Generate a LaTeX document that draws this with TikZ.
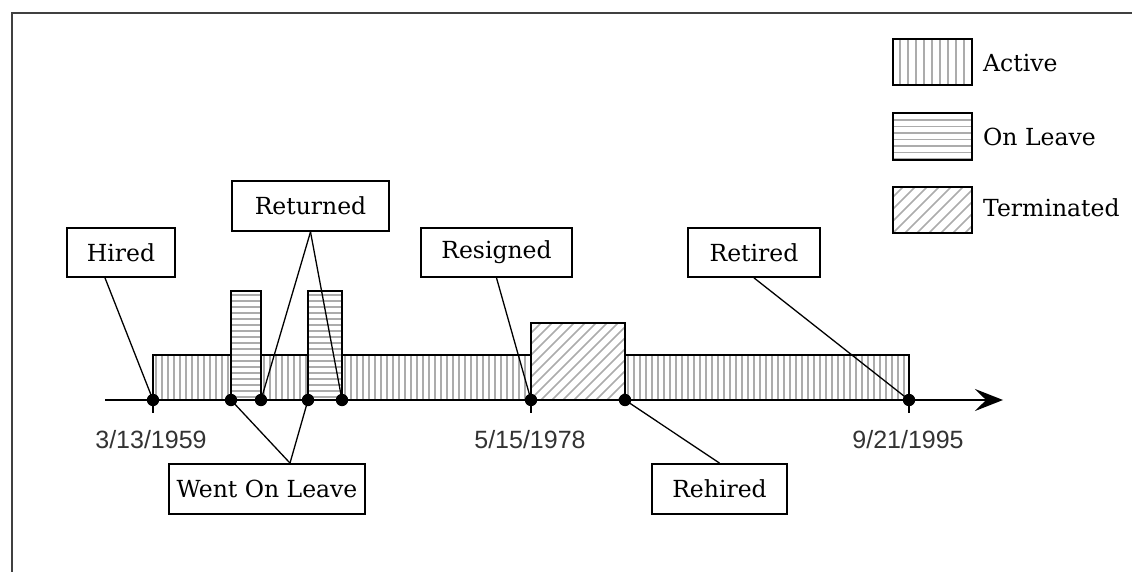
\documentclass[tikz,border=0pt]{standalone}
\usepackage{fontspec}
\usetikzlibrary{arrows.meta,calc}
\newfontfamily\boxfont{DejaVu Serif}
\newfontfamily\datefont{Liberation Sans}
\begin{document}
\begin{tikzpicture}[x=1pt,y=-1pt,
  hatch/.style={gray!65,line width=1.5pt},
  barline/.style={black,line width=1.5pt},
  lbl/.style={draw,line width=1.8pt,font=\boxfont\fontsize{23.5}{28}\selectfont,inner sep=0pt},
  datelbl/.style={font=\datefont\fontsize{25}{30}\selectfont,text=black!80,inner sep=0pt},
  legtext/.style={font=\boxfont\fontsize{23.5}{28}\selectfont,anchor=west,inner sep=0pt},
  conn/.style={line width=1.3pt},
  dot/.style={fill=black}]
\useasboundingbox (0,0) rectangle (1132,572);
% frame
\draw[line width=2.5pt,black!75] (12,572) -- (12,13) -- (1132,13);
% active bars
\foreach \a/\b in {153/231,261/308,342/531,625/909}{
  \begin{scope}
    \clip (\a,355) rectangle (\b,400);
    \foreach \x in {3,9,...,400} \draw[hatch] (\a+\x,355) -- (\a+\x,400);
  \end{scope}
  \draw[barline] (\a,400) -- (\a,355) -- (\b,355) -- (\b,400);
}
% on leave bars
\foreach \a/\b in {231/261,308/342}{
  \begin{scope}
    \clip (\a,291) rectangle (\b,400);
    \foreach \y in {295,301,...,400} \draw[hatch] (\a,\y) -- (\b,\y);
  \end{scope}
  \draw[barline] (\a,400) -- (\a,291) -- (\b,291) -- (\b,400);
}
% terminated bar
\begin{scope}
  \clip (531,323) rectangle (625,400);
  \foreach \x in {-100,-89,...,120} \draw[hatch] (531+\x,400) -- ++(100,-100);
\end{scope}
\draw[barline] (531,400) -- (531,323) -- (625,323) -- (625,400);
% axis
\coordinate (axstart) at (105,400);
\coordinate (axend) at (1003,400);
\draw[line width=2pt,-{Stealth[length=28pt,width=22pt,inset=11pt]}] (axstart) -- (axend);
% event points
\coordinate (hireP) at (153,400);
\coordinate (leave1) at (231,400);
\coordinate (ret1) at (261,400);
\coordinate (leave2) at (308,400);
\coordinate (ret2) at (342,400);
\coordinate (resP) at (531,400);
\coordinate (rehP) at (625,400);
\coordinate (retirP) at (909,400);
\foreach \p in {hireP,resP,retirP} \draw[line width=2pt] ($(\p)+(0,-15)$) -- ($(\p)+(0,13)$);
% label boxes
\node[lbl,minimum width=108pt,minimum height=49pt] (hired) at (121,252.5) {Hired};
\node[lbl,minimum width=157pt,minimum height=50pt] (returned) at (310.5,206) {Returned};
\node[lbl,minimum width=151pt,minimum height=49pt] (resigned) at (496.5,252.5) {Resigned};
\node[lbl,minimum width=132pt,minimum height=49pt] (retired) at (754,252.5) {Retired};
\node[lbl,minimum width=196pt,minimum height=50pt] (wentleave) at (267,489) {Went On Leave};
\node[lbl,minimum width=135pt,minimum height=50pt] (rehired) at (719.5,489) {Rehired};
% connectors
\draw[conn] ($(hired.south)+(-16,0)$) -- (hireP);
\draw[conn] (returned.south) -- (ret1);
\draw[conn] (returned.south) -- (ret2);
\draw[conn] (resigned.south) -- (resP);
\draw[conn] (retired.south) -- (retirP);
\draw[conn] ($(wentleave.north)+(23,0)$) -- (leave1);
\draw[conn] ($(wentleave.north)+(23,0)$) -- (leave2);
\draw[conn] (rehired.north) -- (rehP);
% dots
\foreach \p in {hireP,leave1,ret1,leave2,ret2,resP,rehP,retirP} \fill[dot] (\p) circle (6.2pt);
% dates
\node[datelbl] (d1) at (151,440) {3/13/1959};
\node[datelbl] (d2) at (530,440) {5/15/1978};
\node[datelbl] (d3) at (908,440) {9/21/1995};
% legend
\begin{scope}
  \clip (893,39) rectangle (972,85);
  \foreach \x in {900,908,...,972} \draw[hatch] (\x,39) -- (\x,85);
\end{scope}
\draw[line width=1.8pt] (893,39) rectangle (972,85);
\node[legtext] (lgA) at (983,63) {Active};
\begin{scope}
  \clip (893,113) rectangle (972,160);
  \foreach \y in {120,126.5,...,160} \draw[hatch] (893,\y) -- (972,\y);
\end{scope}
\draw[line width=1.8pt] (893,113) rectangle (972,160);
\node[legtext] (lgL) at (983,137) {On Leave};
\begin{scope}
  \clip (893,187) rectangle (972,233);
  \foreach \x in {-60,-48,...,90} \draw[hatch] (893+\x,233) -- ++(60,-60);
\end{scope}
\draw[line width=1.8pt] (893,187) rectangle (972,233);
\node[legtext] (lgT) at (983,208) {Terminated};
\end{tikzpicture}
\end{document}
